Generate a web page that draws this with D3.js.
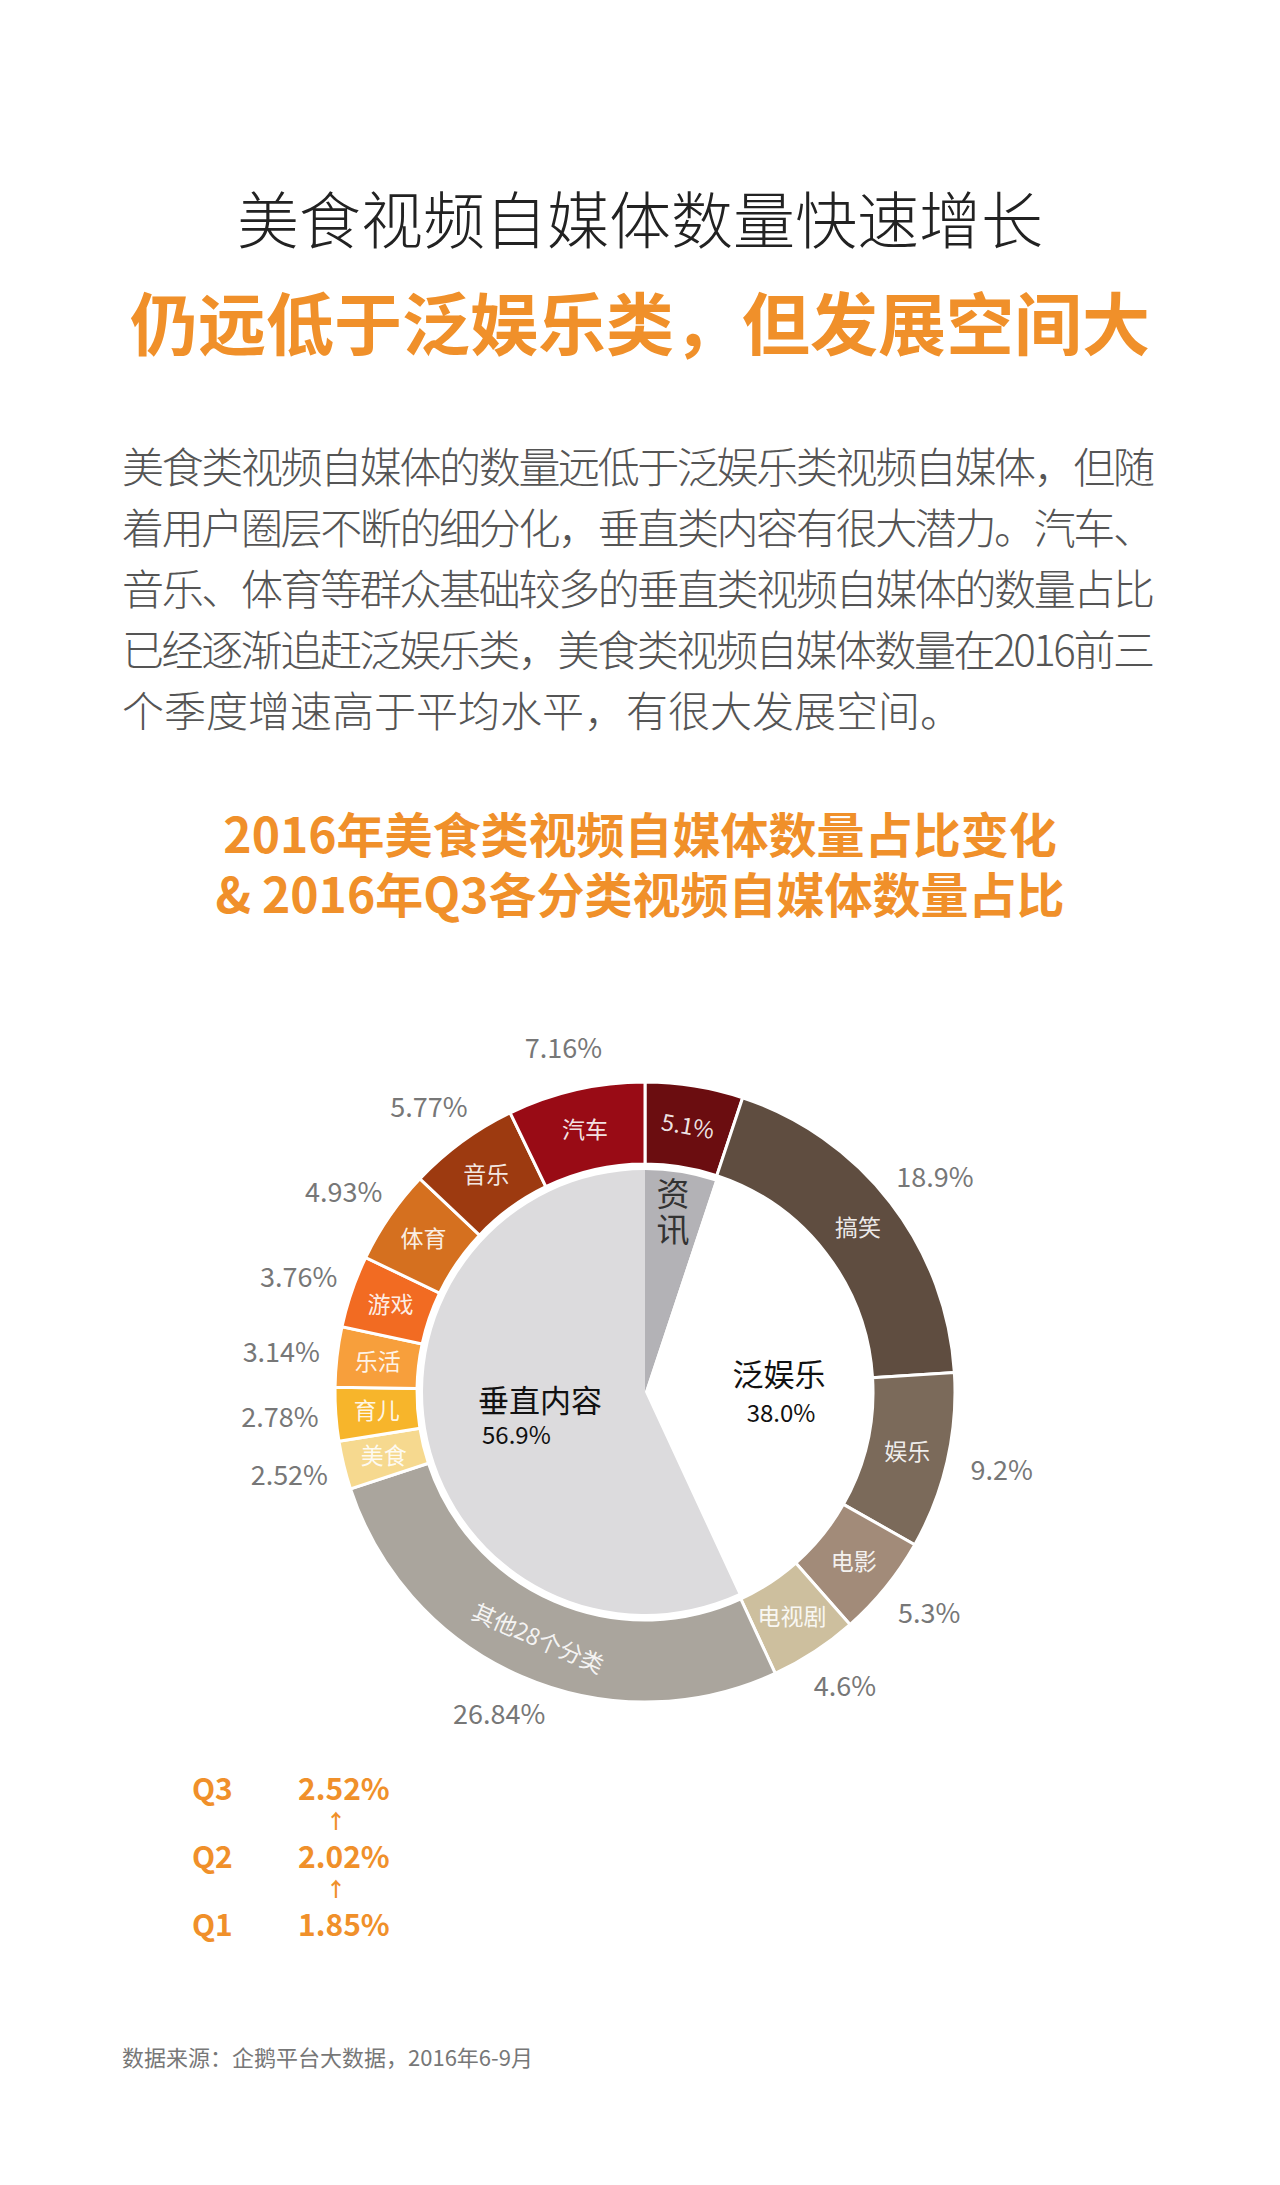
<!DOCTYPE html>
<html><head><meta charset="utf-8">
<script src="https://cdn.jsdelivr.net/npm/d3@7"></script>
<style>
  body { margin: 0; background: #fff; }
  svg { display: block; font-family: "Noto Sans CJK SC", "Noto Sans", sans-serif; }
</style>
</head><body>
<script>
// Outer ring: 2016 Q3 share by category, clockwise from 12 o'clock
const ringNames = ['资讯', '搞笑', '娱乐', '电影', '电视剧', '其他28个分类', '美食', '育儿', '乐活', '游戏', '体育', '音乐', '汽车'];
const ringValues = [5.1, 18.9, 9.2, 5.3, 4.6, 26.84, 2.52, 2.78, 3.14, 3.76, 4.93, 5.77, 7.16];
const ringLabels = ['5.1%', '18.9%', '9.2%', '5.3%', '4.6%', '26.84%', '2.52%', '2.78%', '3.14%', '3.76%', '4.93%', '5.77%', '7.16%'];
const ringColors = ['#6b0d10', '#5f4d40', '#7b6a5a', '#a28b79', '#cdbf9e', '#aaa59d', '#f6d98f', '#f7b52b', '#f79f3c', '#f26b22', '#d5701f', '#9d3a10', '#990b15'];

// Inner pie: group totals
const groupNames = ['资讯', '泛娱乐', '垂直内容'];
const groupValues = [5.1, 38.0, 56.9];
const groupColors = ['#b3b2b6', '#ffffff', '#dcdbdd'];

// Food share by quarter
const quarters = ['Q3', 'Q2', 'Q1'];
const foodShare = ['2.52%', '2.02%', '1.85%'];

const paragraph = [
  '美食类视频自媒体的数量远低于泛娱乐类视频自媒体，但随',
  '着用户圈层不断的细分化，垂直类内容有很大潜力。汽车、',
  '音乐、体育等群众基础较多的垂直类视频自媒体的数量占比',
  '已经逐渐追赶泛娱乐类，美食类视频自媒体数量在2016前三',
  '个季度增速高于平均水平，有很大发展空间。'
];

const W = 1280, H = 2185;
const orange = '#f0902a';
const svg = d3.select('body').append('svg').attr('width', W).attr('height', H);

// Headings
svg.append('text').attr('x', W / 2).attr('y', 244).attr('text-anchor', 'middle')
  .attr('font-size', 62).attr('font-weight', 300).attr('fill', '#222')
  .text('美食视频自媒体数量快速增长');
svg.append('text').attr('x', W / 2).attr('y', 350).attr('text-anchor', 'middle')
  .attr('font-size', 68).attr('font-weight', 700).attr('fill', orange)
  .text('仍远低于泛娱乐类，但发展空间大');

svg.append('g').selectAll('text').data(paragraph).join('text')
  .attr('x', 122).attr('y', (d, i) => 483 + i * 61)
  .attr('font-size', 42).attr('font-weight', 300).attr('fill', '#555')
  .attr('textLength', (d, i) => i < 4 ? 1033 : null)
  .text(d => d);

svg.append('text').attr('x', W / 2).attr('y', 853).attr('text-anchor', 'middle')
  .attr('font-size', 48).attr('font-weight', 700).attr('fill', orange)
  .text('2016年美食类视频自媒体数量占比变化');
svg.append('text').attr('x', W / 2).attr('y', 913).attr('text-anchor', 'middle')
  .attr('font-size', 48).attr('font-weight', 700).attr('fill', orange)
  .text('& 2016年Q3各分类视频自媒体数量占比');

// Donut
const cx = 645, cy = 1392;
const g = svg.append('g').attr('transform', `translate(${cx},${cy})`);
const pie = d3.pie().sort(null).value(d => d);

const ringArcs = pie(ringValues);
const ring = d3.arc().innerRadius(228).outerRadius(310);
g.selectAll('path.ring').data(ringArcs).join('path').attr('class', 'ring')
  .attr('d', ring).attr('fill', (d, i) => ringColors[i])
  .attr('stroke', '#fff').attr('stroke-width', 3);

const innerArcs = pie(groupValues);
const inner = d3.arc().innerRadius(0).outerRadius(222);
g.selectAll('path.inner').data(innerArcs).join('path').attr('class', 'inner')
  .attr('d', inner).attr('fill', (d, i) => groupColors[i]);

// Names inside the ring
const mid = d => (d.startAngle + d.endAngle) / 2;
g.selectAll('text.rname').data(ringArcs).join('text').attr('class', 'rname')
  .attr('transform', (d, i) => {
    const [x, y] = ring.centroid(d);
    let rot = 0;
    if (i === 5) rot = mid(d) * 180 / Math.PI - 180;
    if (i === 0) rot = 10;
    return `translate(${x},${y}) rotate(${rot})`;
  })
  .attr('text-anchor', 'middle').attr('dy', '0.35em')
  .attr('font-size', 23).attr('fill', '#fff').attr('fill-opacity', 0.9)
  .text((d, i) => i === 0 ? ringLabels[0] : ringNames[i]);

// Percentages outside the ring
const outer = d3.arc().innerRadius(352).outerRadius(352);
g.selectAll('text.rpct').data(ringArcs).join('text').attr('class', 'rpct')
  .filter((d, i) => i !== 0)
  .attr('transform', d => {
    const [x, y] = outer.centroid(d);
    return `translate(${x * 1.04},${y})`;
  })
  .attr('text-anchor', 'middle').attr('dy', '0.35em')
  .attr('font-size', 27).attr('fill', '#777')
  .text((d, i) => ringLabels[i + 1]);

// Inner labels
g.append('text').attr('x', 28).attr('y', -186).attr('font-size', 33).attr('fill', '#333')
  .attr('text-anchor', 'middle').text('资');
g.append('text').attr('x', 28).attr('y', -150).attr('font-size', 33).attr('fill', '#333')
  .attr('text-anchor', 'middle').text('讯');
g.append('text').attr('x', 134).attr('y', -6).attr('font-size', 31).attr('fill', '#111')
  .attr('text-anchor', 'middle').text(groupNames[1]);
g.append('text').attr('x', 136).attr('y', 30).attr('font-size', 24).attr('fill', '#111')
  .attr('text-anchor', 'middle').text(groupValues[1].toFixed(1) + '%');
g.append('text').attr('x', -105).attr('y', 20).attr('font-size', 31).attr('fill', '#111')
  .attr('text-anchor', 'middle').text(groupNames[2]);
g.append('text').attr('x', -163).attr('y', 52).attr('font-size', 24).attr('fill', '#111')
  .text(groupValues[2].toFixed(1) + '%');

// Quarter block
const qy = d3.scalePoint().domain(quarters).range([1800, 1936]);
const q = svg.append('g').attr('font-weight', 700).attr('fill', orange).attr('font-size', 30);
q.selectAll('text.q').data(quarters).join('text').attr('class', 'q')
  .attr('x', 192).attr('y', d => qy(d)).text(d => d);
q.selectAll('text.v').data(quarters).join('text').attr('class', 'v')
  .attr('x', 298).attr('y', d => qy(d)).text((d, i) => foodShare[i]);
q.selectAll('text.a').data(quarters.slice(0, 2)).join('text').attr('class', 'a')
  .attr('x', 336).attr('y', d => qy(d) + 29).attr('text-anchor', 'middle')
  .attr('font-size', 20).text('↑');

svg.append('text').attr('x', 122).attr('y', 2066).attr('font-size', 22).attr('fill', '#777')
  .text('数据来源：企鹅平台大数据，2016年6-9月');
</script>
</body></html>
